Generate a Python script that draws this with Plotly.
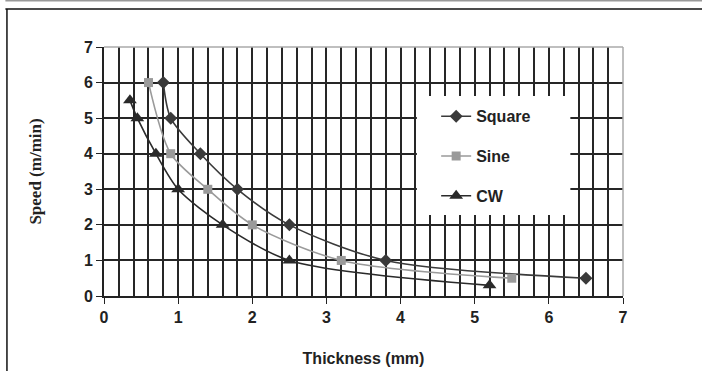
import plotly.graph_objects as go

square_x = [0.8, 0.9, 1.3, 1.8, 2.5, 3.8, 6.5]
square_y = [6, 5, 4, 3, 2, 1, 0.5]
sine_x = [0.6, 0.9, 1.4, 2.0, 3.2, 5.5]
sine_y = [6, 4, 3, 2, 1, 0.5]
cw_x = [0.35, 0.45, 0.7, 1.0, 1.6, 2.5, 5.2]
cw_y = [5.5, 5, 4, 3, 2, 1, 0.3]

# legend background box (data coords)
box_x = [4.22, 6.29, 6.29, 4.22, 4.22]
box_y = [2.28, 2.28, 5.62, 5.62, 2.28]

fig = go.Figure()
fig.add_trace(go.Scatter(x=box_x, y=box_y, fill="toself", fillcolor="white", mode="none",
                         showlegend=False, hoverinfo="skip"))
series = [
    ("Square", square_x, square_y, "#3a3a3a", "diamond", 10),
    ("Sine", sine_x, sine_y, "#9a9a9a", "square", 9),
    ("CW", cw_x, cw_y, "#2a2a2a", "triangle-up", 12),
]
for i, (name, xs, ys, col, sym, sz) in enumerate(series):
    fig.add_trace(go.Scatter(
        x=xs, y=ys, name="<b>" + name + "</b>", mode="lines+markers", legendgroup=str(i),
        line=dict(color=col, width=1.6, shape="spline", smoothing=0.8),
        marker=dict(color=col, symbol=sym, size=sz),
    ))

grid = "#262626"
fig.update_layout(
    width=702, height=371,
    margin=dict(l=104, r=79, t=47, b=75),
    paper_bgcolor="white", plot_bgcolor="white",
    font=dict(family="Liberation Sans, Arial", size=14, color="#222"),
    showlegend=True,
    legend=dict(x=0.64, y=0.79, xanchor="left", yanchor="top",
                bgcolor="rgba(0,0,0,0)", tracegroupgap=16,
                font=dict(family="Liberation Sans, Arial", size=16, color="#222")),
    xaxis=dict(range=[0, 7], dtick=1, tick0=0, showgrid=True, gridcolor=grid, gridwidth=1.8,
               minor=dict(dtick=0.2, showgrid=True, gridcolor=grid, gridwidth=1.8),
               ticks="outside", ticklen=6, tickcolor="#222", showline=True, linecolor="#222", linewidth=1.8,
               tickfont=dict(family="Liberation Sans, Arial", size=16, color="#222"),
               title=dict(text="<b>Thickness (mm)</b>", standoff=28,
                          font=dict(family="Liberation Sans, Arial", size=16, color="#222")),
               automargin=False,
               zeroline=False, mirror=False, tickprefix="<b>", ticksuffix="</b>"),
    yaxis=dict(range=[0, 7], dtick=1, tick0=0, showgrid=True, gridcolor=grid, gridwidth=1.8,
               ticks="outside", ticklen=6, tickcolor="#222", showline=True, linecolor="#222", linewidth=1.8,
               tickfont=dict(family="Liberation Sans, Arial", size=16, color="#222"),
               title=dict(text="<b>Speed (m/min)</b>", standoff=38,
                          font=dict(family="Liberation Serif, Times New Roman", size=17, color="#222")),
               automargin=False,
               zeroline=False, tickprefix="<b>", ticksuffix="</b>"),
    shapes=[
        dict(type="line", xref="paper", yref="paper", x0=0, x1=1, y0=1, y1=1,
             line=dict(color="#aaa", width=1.5)),
        dict(type="line", xref="paper", yref="paper", x0=1, x1=1, y0=0, y1=1,
             line=dict(color="#aaa", width=1.5)),
        dict(type="line", xref="paper", yref="paper", x0=-0.19, x1=1.2, y0=1.187, y1=1.187,
             line=dict(color="#999", width=2)),
        dict(type="line", xref="paper", yref="paper", x0=-0.19, x1=1.2, y0=1.153, y1=1.153,
             line=dict(color="#111", width=1.5)),
        dict(type="line", xref="paper", yref="paper", x0=-0.187, x1=-0.187, y0=1.153, y1=-0.32,
             line=dict(color="#111", width=1.5)),
    ],
)
fig.write_html("out.html")
